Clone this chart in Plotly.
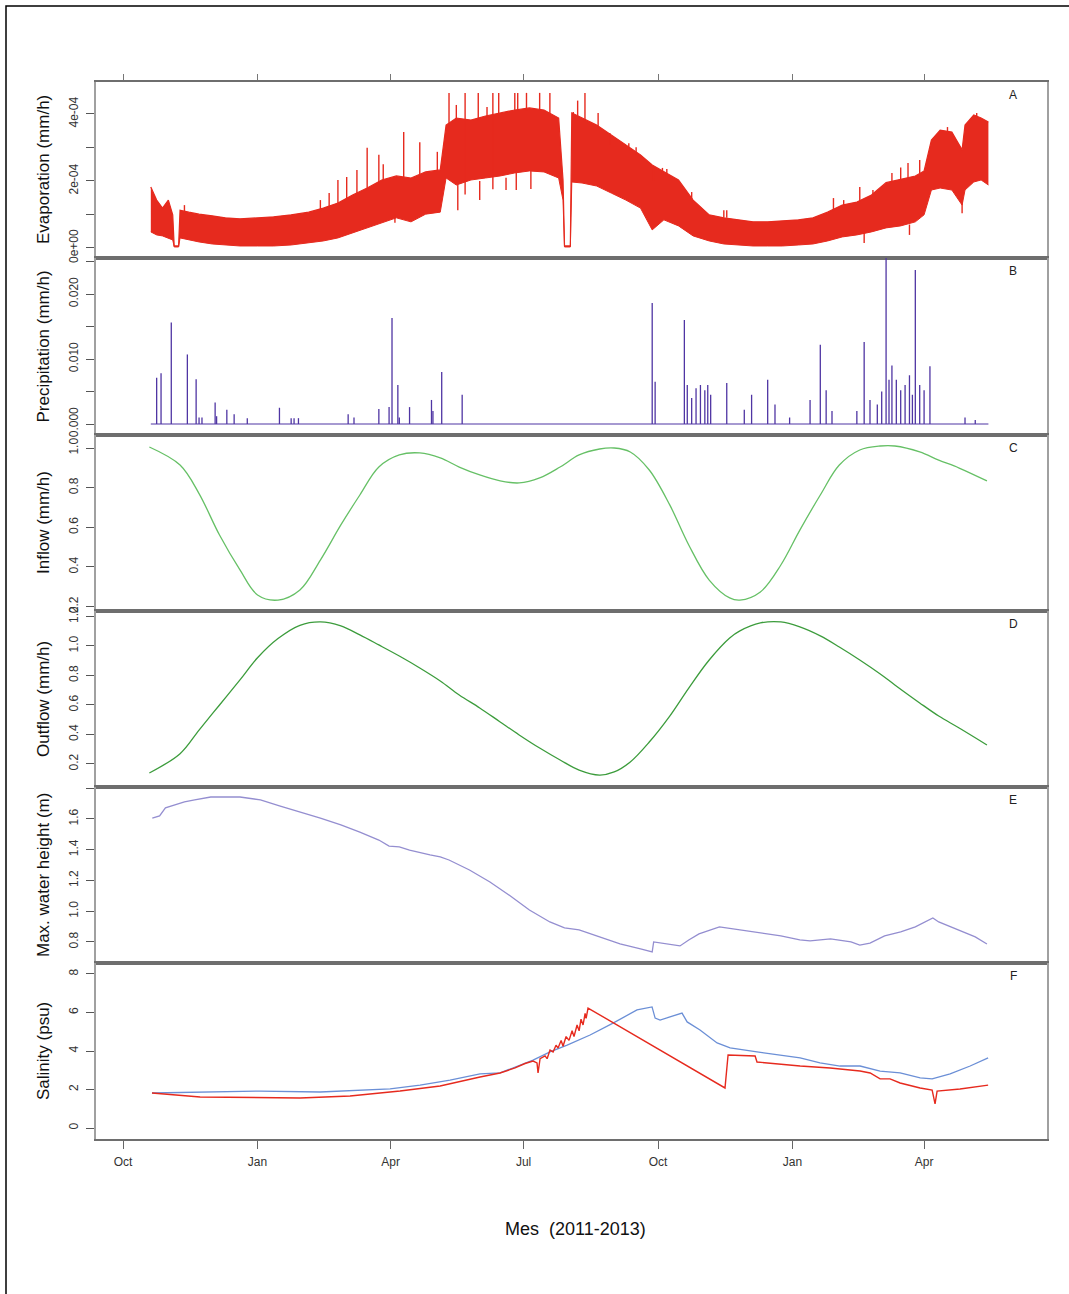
import numpy as np
import pandas as pd
import plotly.graph_objects as go

W, H = 1069, 1294
FONT = "Liberation Sans"

# ---------------- x axis ticks ----------------
month_ticks = ['2011-10-01', '2012-01-01', '2012-04-01', '2012-07-01',
               '2012-10-01', '2013-01-01', '2013-04-01']
month_labels = ['Oct', 'Jan', 'Apr', 'Jul', 'Oct', 'Jan', 'Apr']

# ---------------- A: Evaporation (units 1e-4 mm/h) ----------------
evap_dates = ['2011-10-20', '2011-10-24', '2011-10-28', '2011-11-01', '2011-11-04', '2011-11-05', '2011-11-08', '2011-11-09', '2011-11-15', '2011-11-22',
              '2011-12-01', '2011-12-10', '2011-12-20', '2012-01-01', '2012-01-12', '2012-01-24', '2012-02-05', '2012-02-15', '2012-02-25', '2012-03-06',
              '2012-03-16', '2012-03-26', '2012-04-05', '2012-04-15', '2012-04-25', '2012-05-05', '2012-05-09', '2012-05-16', '2012-05-26', '2012-06-05',
              '2012-06-15', '2012-06-25', '2012-07-05', '2012-07-15', '2012-07-25', '2012-07-28', '2012-07-29', '2012-08-02', '2012-08-03', '2012-08-10',
              '2012-08-20', '2012-08-30', '2012-09-09', '2012-09-19', '2012-09-27', '2012-10-05', '2012-10-15', '2012-10-25', '2012-11-05', '2012-11-15',
              '2012-11-25', '2012-12-05', '2012-12-15', '2012-12-25', '2013-01-05', '2013-01-15', '2013-01-25', '2013-02-04', '2013-02-14', '2013-02-24',
              '2013-03-06', '2013-03-16', '2013-03-26', '2013-04-01', '2013-04-06', '2013-04-12', '2013-04-20', '2013-04-27', '2013-04-29', '2013-05-05',
              '2013-05-10', '2013-05-15']
evap_upper_e4 = [1.82, 1.43, 1.19, 1.43, 0.99, 0.06, 0.06, 1.13, 1.07, 1.01,
                 0.96, 0.90, 0.87, 0.90, 0.93, 0.99, 1.07, 1.19, 1.34, 1.58,
                 1.79, 2.03, 2.15, 2.09, 2.27, 2.33, 3.67, 3.88, 3.82, 3.94,
                 4.03, 4.12, 4.18, 4.12, 3.88, 2.03, 0.06, 0.06, 4.03, 3.88,
                 3.67, 3.37, 3.07, 2.78, 2.48, 2.27, 2.03, 1.43, 0.99, 0.90,
                 0.84, 0.78, 0.78, 0.81, 0.84, 0.90, 1.07, 1.28, 1.37, 1.58,
                 1.95, 2.05, 2.15, 2.30, 3.22, 3.52, 3.46, 2.93, 3.67, 3.97,
                 3.88, 3.76]
evap_lower_e4 = [0.48, 0.39, 0.36, 0.30, 0.24, 0.03, 0.03, 0.30, 0.24, 0.18,
                 0.12, 0.09, 0.06, 0.06, 0.06, 0.09, 0.15, 0.21, 0.30, 0.45,
                 0.60, 0.75, 0.90, 0.78, 1.01, 1.07, 2.09, 1.88, 2.03, 2.09,
                 2.15, 2.24, 2.30, 2.27, 2.09, 1.43, 0.03, 0.03, 1.97, 1.94,
                 1.85, 1.64, 1.43, 1.19, 0.54, 0.84, 0.66, 0.36, 0.21, 0.12,
                 0.09, 0.06, 0.06, 0.06, 0.09, 0.12, 0.21, 0.33, 0.39, 0.48,
                 0.60, 0.66, 0.78, 0.99, 1.73, 1.79, 1.73, 1.28, 1.73, 1.97,
                 2.03, 1.88]
# short vertical excursions (spikes up and dips down)
evap_spike_dates = ['2012-03-16', '2012-03-24', '2012-03-27', '2012-04-10', '2012-04-21', '2012-05-03', '2012-05-11', '2012-05-16', '2012-05-31', '2012-06-06',
                    '2012-06-14', '2012-06-25', '2012-06-27', '2012-07-03', '2012-07-12', '2012-07-19', '2012-08-04', '2012-08-07', '2012-08-12', '2012-08-21',
                    '2012-08-29', '2012-09-11', '2012-09-16', '2012-10-04', '2012-10-07', '2012-10-24', '2012-11-15', '2013-02-16', '2013-03-16', '2013-03-21',
                    '2013-04-03', '2013-04-17', '2013-05-07', '2012-04-04', '2012-05-17', '2012-06-01', '2012-06-19', '2013-04-27',
                    '2011-11-12', '2011-11-18', '2012-02-13', '2012-02-19', '2012-02-25', '2012-03-02', '2012-03-09', '2012-11-17', '2013-01-29', '2013-02-05',
                    '2013-02-25', '2013-03-10', '2013-03-29', '2013-02-19', '2013-03-22', '2012-06-26', '2012-07-06', '2012-09-28', '2012-05-22', '2012-06-10']
evap_spike_lo_e4 = [1.70, 1.90, 2.00, 2.10, 2.20, 2.30, 3.60, 3.80, 3.80, 3.90,
                    4.00, 4.10, 4.10, 4.10, 4.10, 4.00, 4.00, 3.90, 3.80, 3.60,
                    3.10, 2.90, 2.80, 2.20, 2.20, 1.40, 0.90, 1.40, 2.00, 2.05,
                    2.30, 3.40, 3.90, 0.75, 1.13, 1.43, 1.73, 1.04,
                    1.00, 0.95, 1.10, 1.25, 1.34, 1.45, 1.60, 0.90, 1.10, 1.28,
                    1.58, 1.95, 2.15, 0.15, 0.39, 1.73, 1.76, 2.00, 1.60, 1.75]
evap_spike_hi_e4 = [2.99, 2.78, 2.50, 3.46, 3.16, 2.87, 4.63, 4.27, 4.63, 4.21,
                    4.63, 4.63, 4.63, 4.63, 4.63, 4.63, 4.06, 4.40, 4.63, 4.03,
                    3.43, 3.13, 3.01, 2.39, 2.36, 1.67, 1.13, 1.82, 2.40, 2.54,
                    2.63, 3.61, 4.03, 1.00, 1.90, 2.00, 2.10, 1.50,
                    1.28, 1.04, 1.43, 1.64, 2.03, 2.12, 2.33, 1.13, 1.49, 1.43,
                    1.73, 2.24, 2.63, 0.45, 0.70, 2.30, 2.30, 2.40, 4.63, 4.63]

# ---------------- B: Precipitation (mm/h) ----------------
precip_dates = ['2011-10-24', '2011-10-27', '2011-11-03', '2011-11-14', '2011-11-20', '2011-11-22', '2011-11-24', '2011-12-03', '2011-12-04', '2011-12-11',
                '2011-12-16', '2011-12-25', '2012-01-16', '2012-01-24', '2012-01-26', '2012-01-29', '2012-03-03', '2012-03-07', '2012-03-24', '2012-03-31',
                '2012-04-02', '2012-04-06', '2012-04-07', '2012-04-14', '2012-04-29', '2012-04-30', '2012-05-06', '2012-05-20',
                '2012-09-27', '2012-09-29', '2012-10-19', '2012-10-21', '2012-10-24', '2012-10-27', '2012-10-30', '2012-11-02', '2012-11-04', '2012-11-06',
                '2012-11-17', '2012-11-29', '2012-12-04', '2012-12-15', '2012-12-20', '2012-12-30', '2013-01-13', '2013-01-20', '2013-01-24', '2013-01-28',
                '2013-02-14', '2013-02-19', '2013-02-23', '2013-02-28', '2013-03-03', '2013-03-06', '2013-03-08', '2013-03-10', '2013-03-13', '2013-03-16',
                '2013-03-19', '2013-03-22', '2013-03-24', '2013-03-26', '2013-03-29', '2013-04-01', '2013-04-05', '2013-04-29', '2013-05-06']
precip_vals = [0.0071, 0.0078, 0.0156, 0.0107, 0.0069, 0.0010, 0.0010, 0.0033, 0.0012, 0.0022,
               0.0015, 0.0009, 0.0025, 0.0009, 0.0009, 0.0009, 0.0015, 0.0010, 0.0023, 0.0026,
               0.0163, 0.0060, 0.0010, 0.0026, 0.0037, 0.0020, 0.0080, 0.0045,
               0.0186, 0.0065, 0.0160, 0.0060, 0.0040, 0.0055, 0.0060, 0.0052, 0.0060, 0.0045,
               0.0063, 0.0022, 0.0045, 0.0068, 0.0030, 0.0010, 0.0037, 0.0122, 0.0052, 0.0020,
               0.0020, 0.0126, 0.0037, 0.0030, 0.0050, 0.0260, 0.0068, 0.0090, 0.0068, 0.0052,
               0.0060, 0.0075, 0.0045, 0.0237, 0.0060, 0.0052, 0.0089, 0.0010, 0.0006]

# ---------------- C / D: Inflow & Outflow (mm/h) ----------------
smooth_dates = ['2011-10-19', '2011-11-09', '2011-11-22', '2011-12-06', '2011-12-20', '2012-01-01', '2012-01-15', '2012-01-30', '2012-02-13', '2012-02-27',
                '2012-03-11', '2012-03-24', '2012-04-07', '2012-04-21', '2012-05-05', '2012-05-18', '2012-06-01', '2012-06-15', '2012-06-28', '2012-07-12',
                '2012-07-26', '2012-08-08', '2012-08-22', '2012-09-01', '2012-09-12', '2012-09-25', '2012-10-09', '2012-10-22', '2012-11-05', '2012-11-19',
                '2012-11-26', '2012-12-10', '2012-12-24', '2013-01-06', '2013-01-20', '2013-02-02', '2013-02-16', '2013-03-02', '2013-03-12', '2013-03-29',
                '2013-04-11', '2013-04-25', '2013-05-14']
inflow_vals = [1.005, 0.914, 0.770, 0.561, 0.385, 0.259, 0.233, 0.284, 0.435, 0.612,
               0.763, 0.904, 0.965, 0.975, 0.950, 0.904, 0.864, 0.834, 0.824, 0.849,
               0.904, 0.965, 0.995, 1.000, 0.980, 0.889, 0.713, 0.511, 0.334, 0.244,
               0.233, 0.274, 0.410, 0.586, 0.763, 0.914, 0.990, 1.010, 1.010, 0.980,
               0.939, 0.899, 0.834]
outflow_vals = [0.139, 0.270, 0.430, 0.600, 0.770, 0.920, 1.050, 1.140, 1.163, 1.136,
                1.075, 1.007, 0.932, 0.851, 0.763, 0.668, 0.580, 0.485, 0.397, 0.308,
                0.227, 0.159, 0.125, 0.146, 0.214, 0.349, 0.525, 0.715, 0.905, 1.054,
                1.102, 1.156, 1.163, 1.129, 1.068, 0.993, 0.905, 0.810, 0.736, 0.614,
                0.525, 0.444, 0.329]

# ---------------- E: Max. water height (m) ----------------
wh_dates = ['2011-10-21', '2011-10-26', '2011-10-30', '2011-11-06', '2011-11-12', '2011-11-19', '2011-11-30', '2011-12-20', '2012-01-03', '2012-01-16',
            '2012-01-30', '2012-02-13', '2012-02-27', '2012-03-11', '2012-03-24', '2012-03-31', '2012-04-07', '2012-04-14', '2012-04-28', '2012-05-05',
            '2012-05-11', '2012-05-25', '2012-06-08', '2012-06-22', '2012-07-05', '2012-07-19', '2012-07-29', '2012-08-08', '2012-08-22', '2012-09-05',
            '2012-09-19', '2012-09-27', '2012-09-28', '2012-10-09', '2012-10-16', '2012-10-22', '2012-10-29', '2012-11-12', '2012-11-26', '2012-12-10',
            '2012-12-24', '2013-01-06', '2013-01-13', '2013-01-27', '2013-02-10', '2013-02-16', '2013-02-23', '2013-03-05', '2013-03-16', '2013-03-26',
            '2013-04-07', '2013-04-11', '2013-04-25', '2013-05-06', '2013-05-14']
wh_vals = [1.606, 1.620, 1.672, 1.691, 1.711, 1.724, 1.743, 1.743, 1.724, 1.685,
           1.646, 1.606, 1.561, 1.515, 1.463, 1.424, 1.418, 1.398, 1.366, 1.353,
           1.333, 1.268, 1.190, 1.099, 1.008, 0.930, 0.891, 0.878, 0.833, 0.787,
           0.755, 0.735, 0.800, 0.787, 0.774, 0.813, 0.852, 0.898, 0.878, 0.859,
           0.839, 0.813, 0.807, 0.820, 0.800, 0.780, 0.793, 0.839, 0.865, 0.898,
           0.956, 0.930, 0.878, 0.833, 0.787]

# ---------------- F: Salinity (psu), time in days since 2011-10-01 ----------------
sal_blue_days = [19.8, 52.7, 93.7, 134.8, 182.7, 203.2, 223.7, 244.2, 257.9, 280.5,
                 292.1, 303.8, 319.5, 335.2, 351.6, 361.9, 364.0, 367.4, 382.4, 385.9,
                 394.7, 406.4, 415.3, 433.7, 463.2, 476.8, 490.5, 504.2, 517.9, 531.6,
                 545.3, 553.5, 565.8, 579.5, 591.8]
sal_blue_vals = [1.82, 1.87, 1.92, 1.87, 2.03, 2.23, 2.49, 2.81, 2.86, 3.53,
                 3.95, 4.31, 4.83, 5.45, 6.13, 6.29, 5.71, 5.61, 5.97, 5.51,
                 5.09, 4.42, 4.16, 3.95, 3.64, 3.38, 3.22, 3.22, 2.96, 2.86,
                 2.60, 2.55, 2.81, 3.22, 3.64]
sal_red_days = [19.8, 52.7, 121.1, 155.3, 189.5, 216.9, 244.2, 257.9, 268.2, 275.0,
                280.5, 283.2, 283.9, 285.3, 288.7, 290.1, 292.1, 294.2, 296.2, 297.6,
                299.7, 301.0, 303.1, 305.1, 307.2, 308.5, 310.6, 312.0, 313.3, 314.7,
                316.1, 316.8, 318.1, 411.8, 413.9, 432.4, 433.7, 463.2, 483.7, 504.2,
                511.1, 517.9, 524.7, 531.6, 545.3, 553.5, 555.5, 556.9, 572.6, 591.8]
sal_red_vals = [1.82, 1.61, 1.56, 1.66, 1.92, 2.18, 2.65, 2.86, 3.12, 3.35,
                3.48, 3.38, 2.86, 3.60, 3.75, 3.60, 4.05, 3.95, 4.30, 4.15,
                4.55, 4.25, 4.75, 4.55, 5.05, 4.75, 5.35, 5.05, 5.65, 5.35,
                5.95, 5.70, 6.23, 2.08, 3.79, 3.74, 3.43, 3.22, 3.12, 2.96,
                2.86, 2.55, 2.55, 2.34, 2.08, 1.97, 1.25, 1.92, 2.03, 2.23]

# ---------------- axes ticks ----------------
y_ticks = [
    ([0, 1e-4, 2e-4, 3e-4, 4e-4], ['0e+00', '', '2e-04', '', '4e-04']),
    ([0, 0.005, 0.010, 0.015, 0.020, 0.025], ['0.000', '', '0.010', '', '0.020', '']),
    ([0.2, 0.4, 0.6, 0.8, 1.0], ['0.2', '0.4', '0.6', '0.8', '1.0']),
    ([0.2, 0.4, 0.6, 0.8, 1.0, 1.2], ['0.2', '0.4', '0.6', '0.8', '1.0', '1.2']),
    ([0.8, 1.0, 1.2, 1.4, 1.6, 1.8], ['0.8', '1.0', '1.2', '1.4', '1.6', '']),
    ([0, 2, 4, 6, 8], ['0', '2', '4', '6', '8']),
]
y_titles = ['Evaporation (mm/h)', 'Precipitation (mm/h)', 'Inflow (mm/h)',
            'Outflow (mm/h)', 'Max. water height (m)', 'Salinity (psu)']
panel_letters = ['A', 'B', 'C', 'D', 'E', 'F']
y_ranges = [[-0.299e-4, 4.955e-4], [-0.00169, 0.02554], [0.178, 1.0656],
            [0.044, 1.237], [0.663, 1.808], [-0.57, 8.57]]

# ---------------- layout geometry (pixels) ----------------
PANELS = [(82, 258), (258, 435), (435, 611), (611, 787), (787, 963), (963, 1139)]
XL, XR = 96, 1047
X_RANGE = ['2011-09-12 12:00', '2013-06-24 02:00']

RED = '#e62a1e'
PURPLE = '#4f35a3'
GREEN_IN = '#66c066'
GREEN_OUT = '#3c9c3c'
LILAC = '#948ed0'
BLUE = '#6b8fd6'

fig = go.Figure()

def ax(i):
    return ('x' if i == 0 else f'x{i+1}'), ('y' if i == 0 else f'y{i+1}')

# A
xa, ya = ax(0)
ev_lo = np.array(evap_lower_e4) * 1e-4
ev_hi = np.array(evap_upper_e4) * 1e-4
fig.add_trace(go.Scatter(x=evap_dates, y=ev_lo, mode='lines', line=dict(color=RED, width=1),
                         xaxis=xa, yaxis=ya, hoverinfo='skip'))
fig.add_trace(go.Scatter(x=evap_dates, y=ev_hi, mode='lines', line=dict(color=RED, width=1.2),
                         fill='tonexty', fillcolor=RED, xaxis=xa, yaxis=ya))
sx, sy = [], []
for d, lo, hi in zip(evap_spike_dates, evap_spike_lo_e4, evap_spike_hi_e4):
    sx += [d, d, None]
    sy += [lo * 1e-4, hi * 1e-4, None]
fig.add_trace(go.Scatter(x=sx, y=sy, mode='lines', line=dict(color=RED, width=1.4),
                         xaxis=xa, yaxis=ya, hoverinfo='skip'))

# B
xa, ya = ax(1)
fig.add_trace(go.Scatter(x=[evap_dates[0], evap_dates[-1]], y=[0, 0], mode='lines',
                         line=dict(color=PURPLE, width=1.2), xaxis=xa, yaxis=ya, hoverinfo='skip'))
px_, py_ = [], []
for d, v in zip(precip_dates, precip_vals):
    px_ += [d, d, None]
    py_ += [0, v, None]
fig.add_trace(go.Scatter(x=px_, y=py_, mode='lines', line=dict(color=PURPLE, width=1.3),
                         xaxis=xa, yaxis=ya))

# C
xa, ya = ax(2)
fig.add_trace(go.Scatter(x=smooth_dates, y=inflow_vals, mode='lines',
                         line=dict(color=GREEN_IN, width=1.3, shape='spline', smoothing=1.0),
                         xaxis=xa, yaxis=ya))
# D
xa, ya = ax(3)
fig.add_trace(go.Scatter(x=smooth_dates, y=outflow_vals, mode='lines',
                         line=dict(color=GREEN_OUT, width=1.3, shape='spline', smoothing=1.0),
                         xaxis=xa, yaxis=ya))
# E
xa, ya = ax(4)
fig.add_trace(go.Scatter(x=wh_dates, y=wh_vals, mode='lines',
                         line=dict(color=LILAC, width=1.3), xaxis=xa, yaxis=ya))
# F
xa, ya = ax(5)
t0 = pd.Timestamp('2011-10-01')
blue_t = t0 + pd.to_timedelta(sal_blue_days, unit='D')
red_t = t0 + pd.to_timedelta(sal_red_days, unit='D')
fig.add_trace(go.Scatter(x=blue_t, y=sal_blue_vals, mode='lines',
                         line=dict(color=BLUE, width=1.3), xaxis=xa, yaxis=ya))
fig.add_trace(go.Scatter(x=red_t, y=sal_red_vals, mode='lines',
                         line=dict(color=RED, width=1.4), xaxis=xa, yaxis=ya))

layout = dict(width=W, height=H, autosize=False, margin=dict(l=0, r=0, t=0, b=0),
              paper_bgcolor='white', plot_bgcolor='white', showlegend=False,
              font=dict(family=FONT, color='#222', size=12))

for i, (top, bot) in enumerate(PANELS):
    xn = 'xaxis' if i == 0 else f'xaxis{i+1}'
    yn = 'yaxis' if i == 0 else f'yaxis{i+1}'
    xa, ya = ax(i)
    xd = dict(domain=[XL / W, XR / W], anchor=ya, type='date', range=X_RANGE,
              showgrid=False, zeroline=False, showline=True, mirror=True,
              linecolor='#6e6e6e', linewidth=2, automargin=False,
              tickvals=month_ticks, ticktext=month_labels)
    if i == 0:
        xd.update(side='top', ticks='outside', ticklen=6, tickcolor='#777', tickwidth=1,
                  showticklabels=False)
    elif i == 5:
        xd.update(side='bottom', ticks='outside', ticklen=8, tickcolor='#666', tickwidth=1,
                  showticklabels=True, ticklabelstandoff=3,
                  tickfont=dict(size=12, color='#333', family=FONT))
    else:
        xd.update(ticks='', showticklabels=False)
    if i > 0:
        xd['matches'] = 'x'
    tv, tt = y_ticks[i]
    yd = dict(domain=[1 - bot / H, 1 - top / H], anchor=xa, range=y_ranges[i],
              showgrid=False, zeroline=False, showline=True, mirror=True,
              linecolor='#a0a0a0', linewidth=1.5, automargin=False,
              ticks='outside', ticklen=8, tickcolor='#555', tickwidth=1,
              tickvals=tv, ticktext=tt, tickangle=-90, ticklabelstandoff=3,
              tickfont=dict(size=12, color='#333', family=FONT))
    layout[xn] = xd
    layout[yn] = yd

annotations = []
for i, (top, bot) in enumerate(PANELS):
    annotations.append(dict(text=y_titles[i], xref='paper', yref='paper',
                            x=43 / W, y=1 - (top + bot) / 2 / H, textangle=-90,
                            showarrow=False, xanchor='center', yanchor='middle',
                            font=dict(size=17, color='#111', family=FONT)))
    annotations.append(dict(text=panel_letters[i], xref='paper', yref='paper',
                            x=1013 / W, y=1 - (top + 13) / H, showarrow=False,
                            xanchor='center', yanchor='middle',
                            font=dict(size=12, color='#222', family=FONT)))
annotations.append(dict(text='Mes \u00a0(2011-2013)', xref='paper', yref='paper',
                        x=575 / W, y=1 - 1229 / H, showarrow=False,
                        xanchor='center', yanchor='middle',
                        font=dict(size=18, color='#111', family=FONT)))
layout['annotations'] = annotations
layout['shapes'] = [dict(type='rect', xref='paper', yref='paper',
                         x0=6 / W, x1=1.02, y0=-0.02, y1=1 - 6 / H,
                         line=dict(color='black', width=1.5), fillcolor='rgba(0,0,0,0)')]

fig.update_layout(**layout)
fig.write_html("out.html")
